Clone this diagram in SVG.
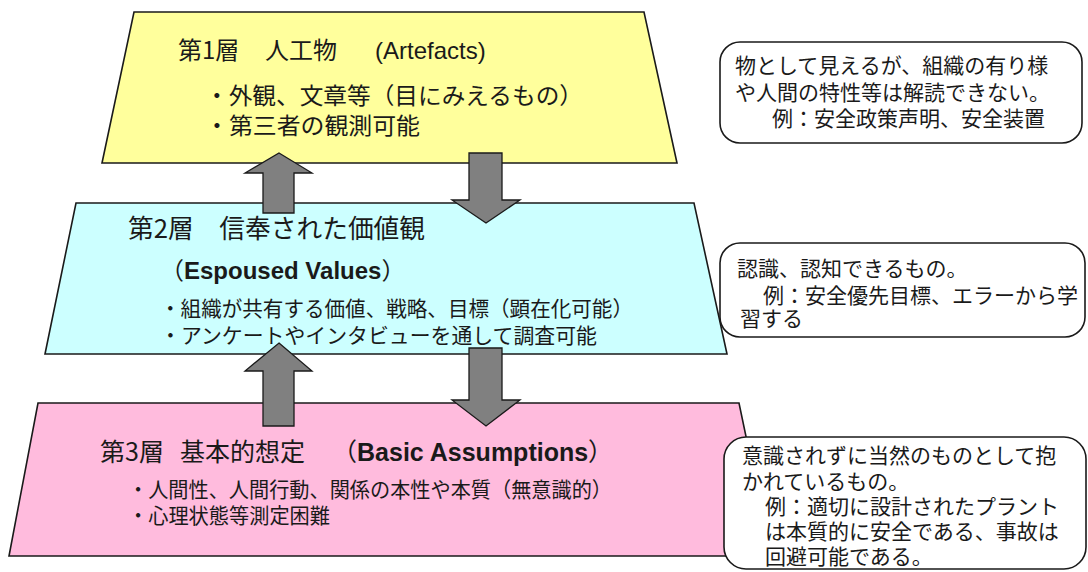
<svg xmlns="http://www.w3.org/2000/svg" width="1088" height="572" viewBox="0 0 1088 572">
<style>
.trap{stroke:#1a1a1a;stroke-width:1.6;stroke-linejoin:miter}
.jp{font-family:"Noto Sans CJK JP","Liberation Sans",sans-serif;fill:#1a1a1a}
.en{font-family:"Liberation Sans","Noto Sans CJK JP",sans-serif}
.enb{font-family:"Liberation Sans","Noto Sans CJK JP",sans-serif;font-weight:bold}
.note{fill:#ffffff;stroke:#1a1a1a;stroke-width:1.6}
.arrow{fill:#808080;stroke:#1a1a1a;stroke-width:1.3;stroke-linejoin:miter}
</style>
<rect width="1088" height="572" fill="#ffffff"/>
<g id="layer1">
<polygon class="trap" fill="#ffff9c" points="134,12 644,12 677,163 102,163"/>
<text class="jp" font-size="24" y="59"><tspan x="178">第1層</tspan><tspan x="265">人工物</tspan><tspan class="en" x="375">(Artefacts)</tspan></text>
<text class="jp" font-size="23" x="205" y="104" textLength="378" lengthAdjust="spacingAndGlyphs">・外観、文章等（目にみえるもの）</text>
<text class="jp" font-size="23" x="205" y="134" textLength="215" lengthAdjust="spacingAndGlyphs">・第三者の観測可能</text>
</g>
<g id="layer2">
<polygon class="trap" fill="#ccffff" points="76,203 694,203 727,354 45,354"/>
<text class="jp" font-size="26" x="128" y="238" textLength="297" lengthAdjust="spacingAndGlyphs">第2層　信奉された価値観</text>
<text class="jp" font-size="24" y="279"><tspan x="160">（</tspan><tspan class="enb">Espoused Values</tspan><tspan>）</tspan></text>
<text class="jp" font-size="21" x="160" y="316" textLength="473" lengthAdjust="spacingAndGlyphs">・組織が共有する価値、戦略、目標（顕在化可能）</text>
<text class="jp" font-size="21" x="160" y="343" textLength="437" lengthAdjust="spacingAndGlyphs">・アンケートやインタビューを通して調査可能</text>
</g>
<g id="layer3">
<polygon class="trap" fill="#ffbbdd" points="38,403 739,403 771,556 9,556"/>
<text class="jp" font-size="25" y="461"><tspan x="100">第3層</tspan><tspan x="180">基本的想定</tspan><tspan x="332">（</tspan><tspan class="enb">Basic Assumptions</tspan><tspan>）</tspan></text>
<text class="jp" font-size="21" x="128" y="497" textLength="484" lengthAdjust="spacingAndGlyphs">・人間性、人間行動、関係の本性や本質（無意識的）</text>
<text class="jp" font-size="21" x="128" y="523" textLength="202" lengthAdjust="spacingAndGlyphs">・心理状態等測定困難</text>
</g>
<g id="connectors">
<polygon class="arrow" points="279,153 312,173 294,173 294,213 263,213 263,173 245,173"/>
<polygon class="arrow" points="469,153 502,153 502,200 520,200 486,223 452,200 469,200"/>
<polygon class="arrow" points="279,343 312,371 294,371 294,426 263,426 263,371 245,371"/>
<polygon class="arrow" points="469,348 502,348 502,400 520,400 486,426 452,400 469,400"/>
</g>
<g id="note1">
<rect class="note" x="720" y="42" width="362" height="101" rx="20"/>
<text class="jp" font-size="21"><tspan x="735" y="73">物として見えるが、組織の有り様</tspan><tspan x="735" y="100">や人間の特性等は解読できない。</tspan><tspan x="772" y="126">例：安全政策声明、安全装置</tspan></text>
</g>
<g id="note2">
<rect class="note" x="720" y="243" width="365" height="94" rx="20"/>
<text class="jp" font-size="21"><tspan x="737" y="276">認識、認知できるもの。</tspan><tspan x="763" y="303">例：安全優先目標、エラーから学</tspan><tspan x="740" y="326">習する</tspan></text>
</g>
<g id="note3">
<rect class="note" x="724" y="437" width="362" height="132" rx="22"/>
<text class="jp" font-size="21"><tspan x="742" y="463">意識されずに当然のものとして抱</tspan><tspan x="742" y="489">かれているもの。</tspan><tspan x="765" y="514">例：適切に設計されたプラント</tspan><tspan x="765" y="539">は本質的に安全である、事故は</tspan><tspan x="765" y="564">回避可能である。</tspan></text>
</g>
</svg>
